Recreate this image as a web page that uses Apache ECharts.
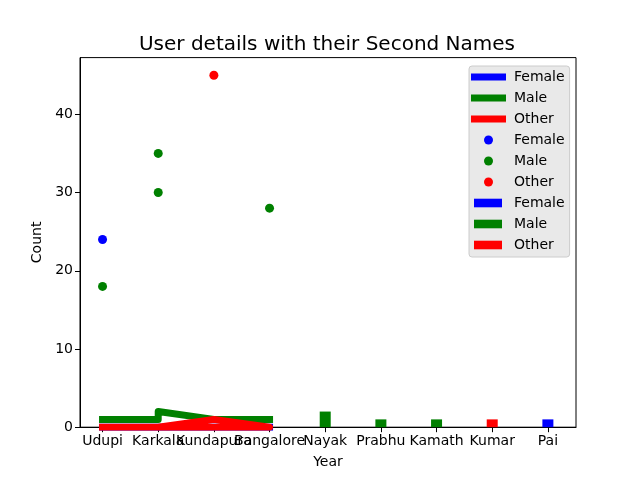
<!DOCTYPE html>
<html>
<head>
<meta charset="utf-8">
<script src="https://cdn.jsdelivr.net/npm/echarts@6/dist/echarts.min.js"></script>
<style>html,body{margin:0;padding:0;background:#fff}#c{width:640px;height:480px}</style>
</head>
<body>
<div id="c"></div>
<script>
// ---- data ----
const categories = ['Udupi', 'Karkala', 'Kundapura', 'Bangalore', 'Nayak', 'Prabhu', 'Kamath', 'Kumar', 'Pai'];
const yTicks = [0, 10, 20, 30, 40];

// line series (counts)
const femaleLineCities = ['Udupi', 'Karkala', 'Kundapura', 'Bangalore'];
const femaleLineCounts = [0, 0, 0, 0];
const maleLineCities = ['Udupi', 'Karkala', 'Karkala', 'Kundapura', 'Bangalore'];
const maleLineCounts = [1, 1, 2, 1, 1];
const otherLineCities = ['Udupi', 'Karkala', 'Kundapura', 'Bangalore', 'Karkala'];
const otherLineCounts = [0, 0, 1, 0, 0];

// scatter series
const femaleDotCities = ['Udupi'];
const femaleDotValues = [24];
const maleDotCities = ['Udupi', 'Karkala', 'Karkala', 'Bangalore'];
const maleDotValues = [18, 30, 35, 28];
const otherDotCities = ['Kundapura'];
const otherDotValues = [45];

// bar series (second names)
const femaleBarNames = ['Pai'];
const femaleBarCounts = [1];
const maleBarNames = ['Nayak', 'Prabhu', 'Kamath'];
const maleBarCounts = [2, 1, 1];
const otherBarNames = ['Kumar'];
const otherBarCounts = [1];

const seriesLabels = ['Female', 'Male', 'Other'];
// ---------------------------------------

const COLORS = { Female: '#0000ff', Male: '#008000', Other: '#ff0000' };
const FONT = 'DejaVu Sans';
function pts(cities, vals) { return cities.map((c, i) => [categories.indexOf(c), vals[i]]); }

const lineIcon = 'path://M0,0M38,10M0,1.5H35V8.5H0Z';
const dotIcon = 'path://M0,0M38,10M22,5A4.5,4.5,0,1,1,13,5A4.5,4.5,0,1,1,22,5Z';
const barIcon = 'path://M0,0M38,10M3,0.7H31V9.3H3Z';

const Z = '\u200b';
const lineDefs = [[femaleLineCities, femaleLineCounts], [maleLineCities, maleLineCounts], [otherLineCities, otherLineCounts]];
const dotDefs = [[femaleDotCities, femaleDotValues], [maleDotCities, maleDotValues], [otherDotCities, otherDotValues]];
const barDefs = [[femaleBarNames, femaleBarCounts], [maleBarNames, maleBarCounts], [otherBarNames, otherBarCounts]];

const series = [];
const legendData = [];
seriesLabels.forEach((lab, i) => {
  series.push({
    name: lab, type: 'line', data: pts(lineDefs[i][0], lineDefs[i][1]),
    showSymbol: false, symbol: 'none', z: 5 + i, clip: true,
    lineStyle: { color: COLORS[lab], width: 7, cap: 'square', join: 'round' },
    itemStyle: { color: COLORS[lab] }, animation: false
  });
  legendData.push({ name: lab, icon: lineIcon });
});
seriesLabels.forEach((lab, i) => {
  series.push({
    name: lab + Z, type: 'scatter', data: pts(dotDefs[i][0], dotDefs[i][1]),
    symbol: 'circle', symbolSize: 9, z: 3,
    itemStyle: { color: COLORS[lab], opacity: 1 }, animation: false
  });
  legendData.push({ name: lab + Z, icon: dotIcon });
});
seriesLabels.forEach((lab, i) => {
  series.push({
    name: lab + Z + Z, type: 'bar', data: pts(barDefs[i][0], barDefs[i][1]),
    barWidth: 11, barGap: '-100%', z: 2,
    itemStyle: { color: COLORS[lab] }, animation: false
  });
  legendData.push({ name: lab + Z + Z, icon: barIcon });
});

const chart = echarts.init(document.getElementById('c'), null, { renderer: 'canvas' });
chart.setOption({
  animation: false,
  backgroundColor: '#ffffff',
  title: {
    text: 'User details with their Second Names',
    left: 322, top: 30, textAlign: 'center',
    textStyle: { fontFamily: FONT, fontSize: 20, fontWeight: 'normal', color: '#000' }
  },
  legend: {
    orient: 'vertical', left: 469, top: 66,
    padding: [4, 5, 5, 2], itemGap: 7, itemWidth: 38, itemHeight: 10,
    backgroundColor: '#e9e9e9', borderColor: '#cccccc', borderWidth: 1, borderRadius: 3,
    textStyle: { fontFamily: FONT, fontSize: 14, color: '#000', lineHeight: 14 },
    formatter: n => n.replace(/\u200b/g, ''),
    selectedMode: false,
    data: legendData
  },
  grid: {
    left: 80, top: 57.6, width: 496, height: 369.6,
    show: true, borderColor: '#000', borderWidth: 1, backgroundColor: 'transparent',
    containLabel: false
  },
  xAxis: {
    type: 'value', min: -0.405, max: 8.505,
    name: 'Year', nameLocation: 'middle', nameGap: 28,
    nameTextStyle: { fontFamily: FONT, fontSize: 14, color: '#000' },
    axisLine: { show: true, onZero: false, lineStyle: { color: '#000', width: 1 } },
    axisTick: { show: true, length: 5, inside: false, lineStyle: { color: '#000' },
      customValues: categories.map((c, i) => i) },
    axisLabel: { show: true, margin: 7, fontFamily: FONT, fontSize: 14, color: '#000',
      customValues: categories.map((c, i) => i),
      formatter: v => categories[Math.round(v)] },
    splitLine: { show: false }
  },
  yAxis: {
    type: 'value', min: 0, max: 47.25,
    name: 'Count', nameLocation: 'middle', nameGap: 36, nameRotate: 90,
    nameTextStyle: { fontFamily: FONT, fontSize: 14, color: '#000' },
    axisLine: { show: true, onZero: false, lineStyle: { color: '#000', width: 1 } },
    axisTick: { show: true, length: 5, inside: false, lineStyle: { color: '#000' },
      customValues: yTicks },
    axisLabel: { show: true, margin: 7, fontFamily: FONT, fontSize: 14, color: '#000',
      customValues: yTicks },
    splitLine: { show: false }
  },
  series: series
});
</script>
</body>
</html>
